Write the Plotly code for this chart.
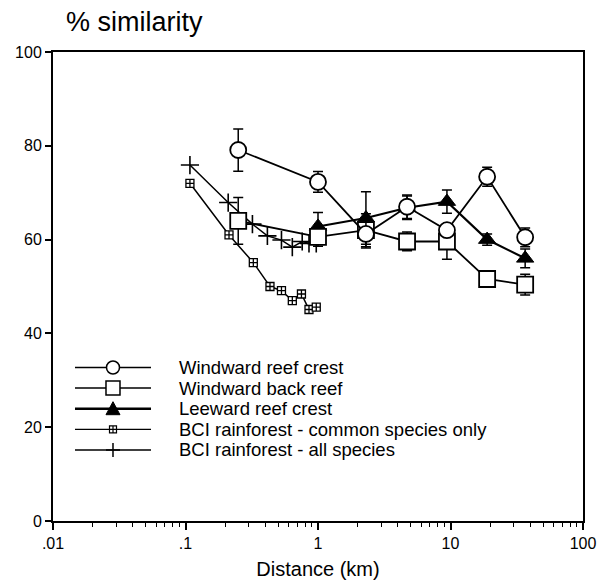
import plotly.graph_objects as go

# ---- data ----
reef_x = [0.25, 1.0, 2.3, 4.7, 9.4, 18.9, 36.6]
wrc_y = [79.1, 72.3, 61.2, 67.0, 62.0, 73.4, 60.5]
wrc_err = [4.5, 2.2, 3.0, 2.5, 1.0, 2.0, 2.0]

wbr_y = [64.0, 60.6, 62.0, 59.6, 59.6, 51.6, 50.4]
wbr_err = [5.0, 2.0, 3.5, 2.0, 3.8, 1.2, 2.2]

lrc_x = [1.0, 2.3, 4.7, 9.4, 18.9, 36.6]
lrc_y = [62.8, 64.6, 66.8, 68.1, 60.0, 56.0]
lrc_err = [3.0, 5.6, 2.5, 2.5, 1.2, 2.0]

bci_x = [0.108, 0.213, 0.325, 0.434, 0.53, 0.64, 0.75, 0.855, 0.97]
bci_common_y = [72.0, 61.0, 55.1, 50.0, 49.1, 47.0, 48.4, 45.1, 45.6]

bci_all_x = [0.108, 0.21, 0.32, 0.415, 0.53, 0.64, 0.76, 0.855, 0.97]
bci_all_y = [75.9, 67.9, 63.3, 60.8, 59.9, 58.4, 59.6, 59.2, 59.2]

names = ["Windward reef crest", "Windward back reef", "Leeward reef crest",
         "BCI rainforest - common species only", "BCI rainforest - all species"]

x_tickvals = [0.01, 0.1, 1, 10, 100]
x_ticktext = [".01", ".1", "1", "10", "100"]
y_tickvals = [0, 20, 40, 60, 80, 100]

minor_vals = [m * 10 ** e for e in range(-2, 2) for m in range(2, 10)]

FONT = "Liberation Sans, Arial, Helvetica, sans-serif"
BLACK = "black"

fig = go.Figure()

def err(vals):
    return dict(type="data", array=vals, visible=True, color=BLACK,
                thickness=1.5, width=5)

fig.add_trace(go.Scatter(
    x=bci_x, y=bci_common_y, name=names[3], mode="lines+markers",
    line=dict(color=BLACK, width=1.5),
    marker=dict(symbol="square-cross", size=8, color="white",
                line=dict(color=BLACK, width=1.3))))

fig.add_trace(go.Scatter(
    x=bci_all_x, y=bci_all_y, name=names[4], mode="lines+markers",
    line=dict(color=BLACK, width=1.5),
    marker=dict(symbol="cross-thin-open", size=13, color=BLACK,
                line=dict(color=BLACK, width=1.6))))

fig.add_trace(go.Scatter(
    x=lrc_x, y=lrc_y, name=names[2], mode="lines+markers",
    line=dict(color=BLACK, width=2.2),
    marker=dict(symbol="triangle-up", size=15, color=BLACK,
                line=dict(color=BLACK, width=1)),
    error_y=err(lrc_err)))

fig.add_trace(go.Scatter(
    x=reef_x, y=wbr_y, name=names[1], mode="lines+markers",
    line=dict(color=BLACK, width=1.8),
    marker=dict(symbol="square", size=16, color="white",
                line=dict(color=BLACK, width=1.8)),
    error_y=err(wbr_err)))

fig.add_trace(go.Scatter(
    x=reef_x, y=wrc_y, name=names[0], mode="lines+markers",
    line=dict(color=BLACK, width=1.8),
    marker=dict(symbol="circle", size=16, color="white",
                line=dict(color=BLACK, width=1.8)),
    error_y=err(wrc_err)))

# ---- hand-drawn legend (matches the original's compact layout) ----
leg_rows = [(521 - (367.5 + 20.6 * i)) / 469.0 for i in range(5)]
leg_x0, leg_x1, leg_xm, leg_tx = 0.0415, 0.1849, 0.1132, 0.2358
leg_lw = [1.5, 1.5, 2.5, 1.2, 1.5]
leg_paths = [
    None,
    None,
    "M-7,-6 L7,-6 L0,7 Z",
    "M-3.5,-3.5 H3.5 V3.5 H-3.5 Z M-3.5,0 H3.5 M0,-3.5 V3.5",
    "M-7,0 H7 M0,-7 V7",
]
shapes = []
annotations = []
for i, (yy, nm) in enumerate(zip(leg_rows, names)):
    shapes.append(dict(type="line", xref="paper", yref="paper",
                       x0=leg_x0, x1=leg_x1, y0=yy, y1=yy,
                       line=dict(color=BLACK, width=leg_lw[i]), layer="above"))
    common = dict(xref="paper", yref="paper", xsizemode="pixel",
                  ysizemode="pixel", xanchor=leg_xm, yanchor=yy, layer="above")
    if i == 0:
        shapes.append(dict(type="circle", x0=-6.5, x1=6.5, y0=-6.5, y1=6.5,
                           fillcolor="white",
                           line=dict(color=BLACK, width=1.5), **common))
    elif i == 1:
        shapes.append(dict(type="rect", x0=-7, x1=7, y0=-7, y1=7,
                           fillcolor="white",
                           line=dict(color=BLACK, width=1.5), **common))
    elif i == 2:
        shapes.append(dict(type="path", path=leg_paths[i], fillcolor=BLACK,
                           line=dict(color=BLACK, width=1), **common))
    elif i == 3:
        shapes.append(dict(type="path", path=leg_paths[i], fillcolor="white",
                           line=dict(color=BLACK, width=1.2), **common))
    else:
        shapes.append(dict(type="path", path=leg_paths[i],
                           line=dict(color=BLACK, width=1.5), **common))
    annotations.append(dict(text=nm, xref="paper", yref="paper",
                            x=leg_tx, y=yy, xanchor="left", yanchor="middle",
                            showarrow=False, borderpad=0,
                            font=dict(size=18.5, family=FONT, color=BLACK)))

annotations.append(dict(text="% similarity", xref="paper", yref="paper",
                        x=0.02, y=(521 - 22) / 469.0, xanchor="left",
                        yanchor="middle", showarrow=False,
                        font=dict(size=27, family=FONT, color=BLACK)))

fig.update_layout(
    width=610, height=580,
    margin=dict(l=53, r=27, t=52, b=59, pad=0, autoexpand=False),
    paper_bgcolor="white", plot_bgcolor="white",
    font=dict(family=FONT, color=BLACK, size=16),
    showlegend=False,
    shapes=shapes,
    annotations=annotations,
    xaxis=dict(type="log", range=[-2, 2], tickmode="array",
               tickvals=x_tickvals, ticktext=x_ticktext, automargin=False,
               ticks="outside", ticklen=7, tickwidth=1.5, tickcolor=BLACK,
               showline=True, linecolor=BLACK, linewidth=2, mirror=True,
               showgrid=False, zeroline=False,
               tickfont=dict(size=16),
               minor=dict(tickmode="array", tickvals=minor_vals,
                          ticks="outside", ticklen=4, tickwidth=1.2,
                          tickcolor=BLACK, showgrid=False),
               title=dict(text="Distance (km)", font=dict(size=20), standoff=30)),
    yaxis=dict(range=[0, 100], tickmode="array", tickvals=y_tickvals,
               automargin=False,
               ticks="outside", ticklen=6, tickwidth=1.5, tickcolor=BLACK,
               showline=True, linecolor=BLACK, linewidth=2, mirror=True,
               showgrid=False, zeroline=False, tickfont=dict(size=16)),
)

# the page's default 8px body margin would push the 610x580 figure off-screen
fig.write_html("out.html",
               config={"displayModeBar": False},
               post_script="document.body.style.margin='0';"
                           "document.body.style.overflow='hidden';")
